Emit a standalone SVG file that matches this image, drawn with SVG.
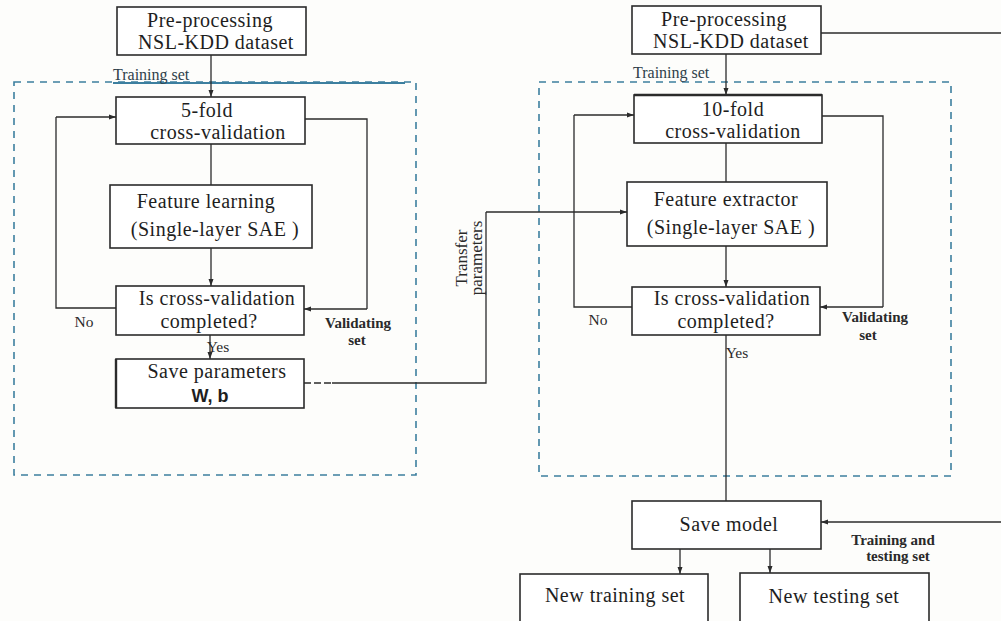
<svg xmlns="http://www.w3.org/2000/svg" width="1001" height="621" viewBox="0 0 1001 621">
  <style>
    .box { fill: #ffffff; stroke: #2b2b2b; stroke-width: 1.6; }
    .ln { fill: none; stroke: #2b2b2b; stroke-width: 1.3; }
    .arr { fill: none; stroke: #2b2b2b; stroke-width: 1.3; marker-end: url(#ah); }
    .region { fill: none; stroke: #3c7f9f; stroke-width: 1.6; stroke-dasharray: 7 6; }
    .t { font-family: "Liberation Serif", "Times New Roman", serif; font-size: 20px; letter-spacing: 0.5px; fill: #1e1e1e; text-anchor: middle; }
    .wb { font-family: "Liberation Sans", Arial, sans-serif; font-size: 18px; font-weight: bold; fill: #1e1e1e; text-anchor: middle; }
    .s { font-family: "Liberation Serif", "Times New Roman", serif; font-size: 15.5px; fill: #2a2a2a; text-anchor: middle; }
    .sb { font-family: "Liberation Serif", "Times New Roman", serif; font-size: 15px; font-weight: bold; fill: #2a2a2a; text-anchor: middle; }
    .tl { font-family: "Liberation Serif", "Times New Roman", serif; font-size: 16px; fill: #2f3f4a; }
    .rot { font-family: "Liberation Serif", "Times New Roman", serif; font-size: 17px; fill: #2a2a2a; text-anchor: middle; }
  </style>
  <defs>
    <marker id="ah" markerWidth="8" markerHeight="8" refX="7" refY="4" orient="auto" markerUnits="userSpaceOnUse">
      <path d="M0,1.5 L7,4 L0,6.5 Z" fill="#2b2b2b"/>
    </marker>
  </defs>

  <rect width="1001" height="621" fill="#fdfdfb"/>

  <!-- dashed regions -->
  <g id="regions">
    <rect class="region" x="14" y="82" width="402" height="393"/>
    <line x1="113" y1="83" x2="405" y2="83" stroke="#3c7f9f" stroke-width="2"/>
    <rect class="region" x="539" y="82" width="412" height="394"/>
  </g>

  <!-- connectors -->
  <g id="connectors">
    <!-- left flow -->
    <line class="arr" x1="211" y1="55" x2="211" y2="97"/>
    <line class="ln" x1="211" y1="144" x2="211" y2="185"/>
    <line class="arr" x1="211" y1="248" x2="211" y2="286"/>
    <line class="arr" x1="210" y1="335" x2="210" y2="359"/>
    <polyline class="ln" points="116,308 56,308 56,117"/>
    <line class="arr" x1="56" y1="117" x2="116" y2="117"/>
    <polyline class="ln" points="305,119 367,119 367,309"/>
    <line class="arr" x1="367" y1="309" x2="304" y2="309"/>

    <!-- transfer of parameters -->
    <line class="ln" x1="304" y1="383" x2="332" y2="383" stroke-dasharray="7 3"/>
    <polyline class="ln" points="332,383 486,383 486,212"/>
    <line class="arr" x1="486" y1="212" x2="627" y2="212"/>

    <!-- right flow -->
    <line class="arr" x1="726" y1="54" x2="726" y2="95"/>
    <line class="ln" x1="726" y1="143" x2="726" y2="182"/>
    <line class="arr" x1="726" y1="246" x2="726" y2="287"/>
    <polyline class="ln" points="632,307 574,307 574,115"/>
    <line class="arr" x1="574" y1="115" x2="634" y2="115"/>
    <polyline class="ln" points="822,116 883,116 883,307"/>
    <line class="arr" x1="883" y1="307" x2="820" y2="307"/>
    <line class="ln" x1="726" y1="335" x2="726" y2="501"/>

    <!-- training and testing set feed -->
    <line class="ln" x1="821" y1="33" x2="1001" y2="33"/>
    <line class="arr" x1="1001" y1="522" x2="821" y2="522"/>

    <!-- outputs -->
    <line class="arr" x1="680" y1="549" x2="680" y2="574"/>
    <line class="arr" x1="770" y1="549" x2="770" y2="573"/>
  </g>

  <!-- left column -->
  <g id="pre-left">
    <rect class="box" x="117" y="7" width="189" height="48"/>
    <text class="t" x="210" y="26.5">Pre-processing</text>
    <text class="t" x="216" y="49">NSL-KDD dataset</text>
  </g>
  <g id="cv5">
    <rect class="box" x="116" y="97" width="189" height="47"/>
    <text class="t" x="207" y="116.5">5-fold</text>
    <text class="t" x="218" y="139">cross-validation</text>
  </g>
  <g id="feature-learning">
    <rect class="box" x="110" y="185" width="202" height="63"/>
    <text class="t" x="206" y="208">Feature learning</text>
    <text class="t" x="215" y="236">(Single-layer SAE )</text>
  </g>
  <g id="check-left">
    <rect class="box" x="116" y="286" width="188" height="49"/>
    <text class="t" x="217" y="305">Is cross-validation</text>
    <text class="t" x="209" y="327.5">completed?</text>
  </g>
  <g id="save-params">
    <rect class="box" x="116" y="359" width="188" height="49"/>
    <line x1="116" y1="359" x2="116" y2="408" stroke="#2b2b2b" stroke-width="2.4"/>
    <text class="t" x="217" y="378">Save parameters</text>
    <text class="wb" x="210" y="402">W, b</text>
  </g>

  <!-- right column -->
  <g id="pre-right">
    <rect class="box" x="632" y="6" width="189" height="48"/>
    <text class="t" x="724" y="25.5">Pre-processing</text>
    <text class="t" x="731" y="48">NSL-KDD dataset</text>
  </g>
  <g id="cv10">
    <rect class="box" x="634" y="95" width="188" height="48"/>
    <line x1="634" y1="95" x2="822" y2="95" stroke="#2b2b2b" stroke-width="2.4"/>
    <text class="t" x="733" y="115.5">10-fold</text>
    <text class="t" x="733" y="138">cross-validation</text>
  </g>
  <g id="feature-extractor">
    <rect class="box" x="627" y="182" width="200" height="64"/>
    <text class="t" x="726" y="206">Feature extractor</text>
    <text class="t" x="731" y="234">(Single-layer SAE )</text>
  </g>
  <g id="check-right">
    <rect class="box" x="632" y="287" width="188" height="48"/>
    <text class="t" x="732" y="305">Is cross-validation</text>
    <text class="t" x="726" y="327.5">completed?</text>
  </g>
  <g id="save-model">
    <rect class="box" x="632" y="501" width="189" height="48"/>
    <text class="t" x="729" y="531">Save model</text>
  </g>
  <g id="new-training">
    <rect class="box" x="520" y="574" width="188" height="60"/>
    <text class="t" x="615" y="602">New training set</text>
  </g>
  <g id="new-testing">
    <rect class="box" x="740" y="573" width="189" height="61"/>
    <text class="t" x="834" y="603">New testing set</text>
  </g>

  <!-- connector labels -->
  <g id="labels">
    <text class="tl" x="113" y="80">Training set</text>
    <text class="tl" x="633" y="78">Training set</text>
    <text class="s" x="84" y="327">No</text>
    <text class="s" x="598" y="325">No</text>
    <text class="sb" x="358" y="328">Validating</text>
    <text class="sb" x="357" y="345">set</text>
    <text class="sb" x="875" y="322">Validating</text>
    <text class="sb" x="868" y="340">set</text>
    <text class="s" x="218" y="352" text-anchor="start">Yes</text>
    <text class="s" x="737" y="358" text-anchor="start">Yes</text>
    <text class="sb" x="893" y="545">Training and</text>
    <text class="sb" x="898" y="561">testing set</text>
    <text class="rot" transform="translate(467,258) rotate(-90)">Transfer</text>
    <text class="rot" transform="translate(482,258) rotate(-90)">parameters</text>
  </g>
</svg>
